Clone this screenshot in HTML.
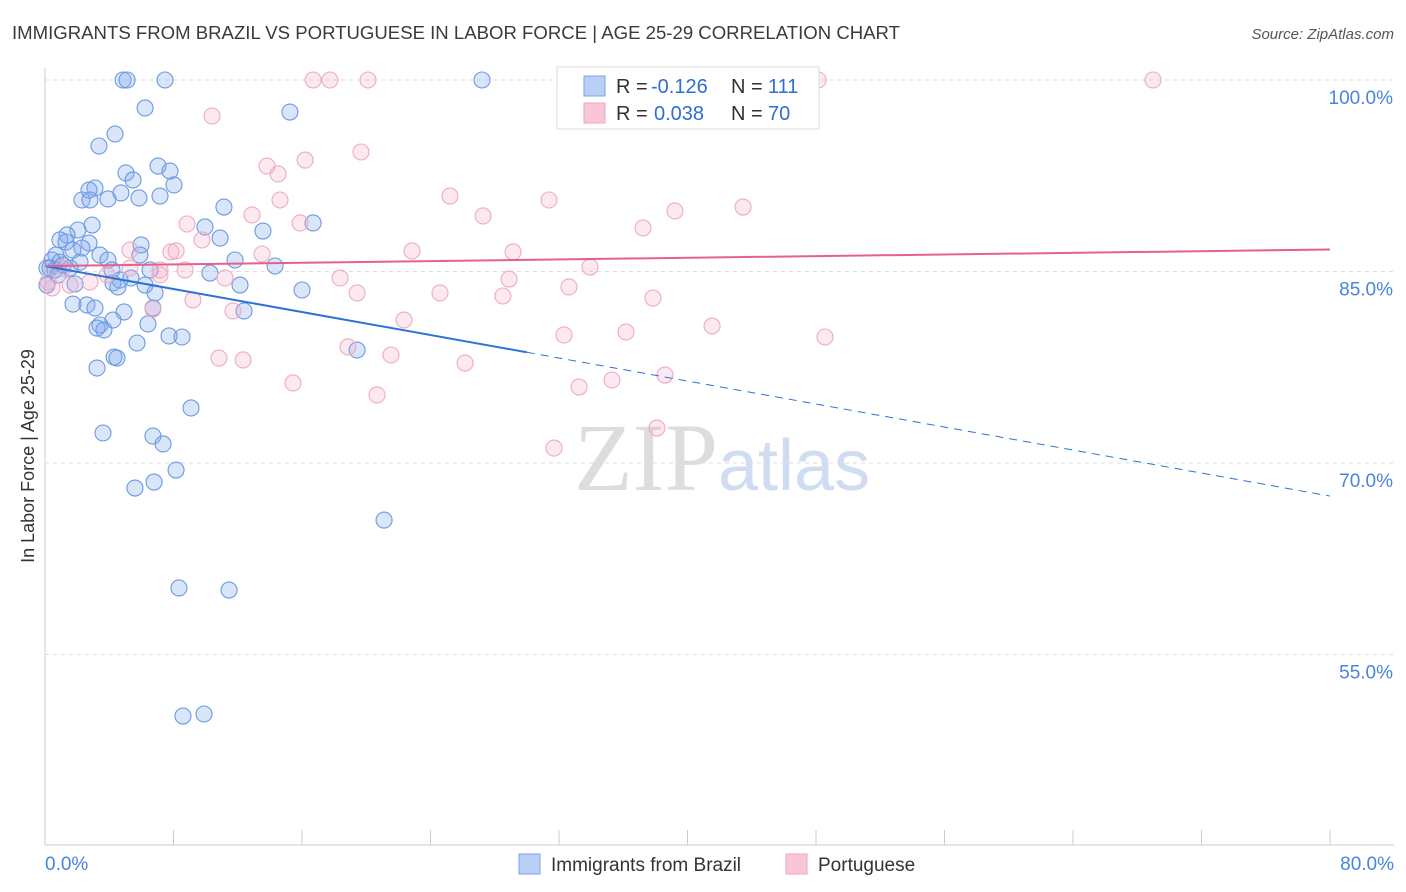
<!DOCTYPE html>
<html><head><meta charset="utf-8"><style>
body{margin:0;background:#fff;font-family:"Liberation Sans",sans-serif;}
svg{display:block}
</style></head><body>
<svg id="chart" width="1406" height="892">
<text x="12" y="39" font-size="18" fill="#3a3a3a" textLength="888" lengthAdjust="spacingAndGlyphs">IMMIGRANTS FROM BRAZIL VS PORTUGUESE IN LABOR FORCE | AGE 25-29 CORRELATION CHART</text>
<text x="1394" y="39" font-size="15" fill="#555" font-style="italic" text-anchor="end">Source: ZipAtlas.com</text>
<text x="34" y="456" font-size="18" fill="#333" transform="rotate(-90 34 456)" text-anchor="middle">In Labor Force | Age 25-29</text>
<g id="grid"></g>
<text x="718" y="490" font-size="96" fill="#ddd" font-family="Liberation Serif,serif" text-anchor="end">ZIP</text>
<text x="718" y="490" font-size="72" fill="#cfdcf2">atlas</text>
<g id="marks"></g>
<g>
<rect x="557" y="67" width="262" height="62" fill="#fff" stroke="#ddd"/>
<rect x="584" y="76" width="21" height="20" fill="#b8d0f5" stroke="#7aa4e6"/>
<rect x="584" y="103" width="21" height="20" fill="#f8c6d6" stroke="#eea5bf"/>
<text x="616" y="93" font-size="20" fill="#333">R =</text>
<text x="651" y="93" font-size="20" fill="#2f6fd0">-0.126</text>
<text x="731" y="93" font-size="20" fill="#333">N =</text>
<text x="768" y="93" font-size="20" fill="#2f6fd0">111</text>
<text x="616" y="120" font-size="20" fill="#333">R =</text>
<text x="654" y="120" font-size="20" fill="#2f6fd0">0.038</text>
<text x="731" y="120" font-size="20" fill="#333">N =</text>
<text x="768" y="120" font-size="20" fill="#2f6fd0">70</text>
</g>
<g>
<rect x="519" y="854" width="21" height="20" fill="#b8d0f5" stroke="#7aa4e6"/>
<text x="551" y="871" font-size="19" fill="#333">Immigrants from Brazil</text>
<rect x="786" y="854" width="21" height="20" fill="#f8c6d6" stroke="#eea5bf"/>
<text x="818" y="871" font-size="19" fill="#333">Portuguese</text>
</g>
</svg>
<script>
const yTicks=[100,85,70,55];
const yTickLabels=["100.0%","85.0%","70.0%","55.0%"];
const xTicks=[0,8,16,24,32,40,48,56,64,72,80];
const blueX=[4.86,5.11,7.47,27.21,6.23,15.25,4.36,3.36,7.04,7.78,5.04,5.48,8.03,3.11,2.74,4.73,2.30,2.80,3.92,5.85,7.16,11.14,9.96,2.93,13.57,16.69,10.90,2.05,1.37,0.93,1.31,2.74,2.30,1.74,0.68,3.42,0.44,0.93,3.92,5.98,5.91,11.83,14.32,0.12,0.62,1.56,4.17,6.54,10.27,4.67,5.35,4.23,6.23,0.12,12.14,1.87,16.0,6.85,1.74,2.61,4.54,3.11,4.92,6.72,12.39,4.23,6.41,3.42,3.24,3.67,5.73,7.72,8.53,19.43,4.30,4.48,3.24,9.09,3.61,6.72,7.35,8.16,6.79,5.60,21.11,8.34,11.46,8.59,9.90,0.31,0.81,1.12,2.18];
const blueY=[100,100,100,100,97.81,97.49,95.77,94.83,93.26,92.87,92.72,92.17,91.78,91.54,91.38,91.15,90.60,90.60,90.68,90.76,90.91,90.05,88.49,88.64,88.17,88.80,87.62,88.25,87.86,87.47,87.31,87.23,86.84,86.68,86.29,86.29,85.90,85.74,85.90,87.08,86.29,85.90,85.43,85.27,85.12,85.27,85.12,85.12,84.88,84.33,84.49,84.10,83.94,83.94,83.94,84.02,83.55,83.32,82.45,82.38,83.79,82.14,81.83,82.14,81.91,81.20,80.89,80.81,80.57,80.42,79.40,79.95,79.87,78.85,78.30,78.22,77.44,74.31,72.35,72.11,71.49,69.45,68.51,68.04,65.53,60.21,60.05,50.18,50.34,85.27,84.73,85.51,85.74];
const pinkX=[16.69,17.74,20.11,48.13,68.98,10.40,19.67,16.19,13.82,14.51,14.63,25.21,31.38,43.46,39.22,27.27,8.84,12.89,15.88,37.23,8.16,7.84,9.77,22.85,29.14,13.51,33.93,18.37,28.89,11.21,24.59,19.43,28.51,32.62,37.85,9.21,11.70,6.72,22.35,41.53,32.31,36.17,48.56,18.86,21.54,10.83,12.33,26.15,15.44,35.30,33.25,38.60,20.67,38.10,31.69,0.44,0.19,2.80,3.86,5.29,7.16,5.29,1.56,7.16,8.72,1.12];
const pinkY=[100,100,100,100,100,97.18,94.36,93.73,93.26,92.64,90.60,90.91,90.60,90.05,89.74,89.35,88.72,89.43,88.80,88.41,86.61,86.53,87.47,86.61,86.53,86.37,85.35,84.49,84.41,84.49,83.32,83.32,83.08,83.79,82.92,82.77,81.91,82.06,81.20,80.73,80.03,80.26,79.87,79.09,78.46,78.22,78.07,77.83,76.27,76.50,75.95,76.89,75.33,72.74,71.17,83.71,84.18,84.18,84.73,86.68,84.73,85.27,83.94,85.12,85.12,85.27];
const blueTrend=[85.43,67.41], blueSolidEnd=30.0;
const pinkTrend=[85.43,86.72];
const NS="http://www.w3.org/2000/svg";
const sx=v=>45+v/80*1285, sy=v=>80+(100-v)/15*191.5;
function mk(tag,attrs,parent){const e=document.createElementNS(NS,tag);for(const k in attrs)e.setAttribute(k,attrs[k]);parent.appendChild(e);return e;}
const grid=document.getElementById('grid'), marks=document.getElementById('marks');
mk('line',{x1:45,y1:68,x2:45,y2:845,stroke:'#ccc'},grid);
mk('line',{x1:45,y1:845,x2:1394,y2:845,stroke:'#ccc'},grid);
yTicks.forEach((t,i)=>{
 const l=mk('line',{x1:45,y1:sy(t),x2:1394,y2:sy(t),stroke:'#ddd','stroke-dasharray':'4,4'},grid);
 
 
 const tx=mk('text',{x:1393,y:sy(t)+24,'font-size':19,fill:'#4a84dc','text-anchor':'end'},grid);
 tx.textContent=yTickLabels[i];
 
 
});
xTicks.forEach(t=>{
 const l=mk('line',{x1:sx(t),y1:830,x2:sx(t),y2:845,stroke:'#ccc'},grid);
 
 
});
const xl0=mk('text',{x:45,y:870,'font-size':19,fill:'#4a84dc'},grid);xl0.textContent='0.0%';


const xl1=mk('text',{x:1394,y:870,'font-size':19,fill:'#4a84dc','text-anchor':'end'},grid);xl1.textContent='80.0%';


blueX.forEach((x,i)=>{
 const c=mk('circle',{cx:sx(x),cy:sy(blueY[i]),r:8,fill:'rgba(130,170,235,0.3)',stroke:'#6b9ae2','stroke-width':1.1},marks);
 
 
});
pinkX.forEach((x,i)=>{
 const c=mk('circle',{cx:sx(x),cy:sy(pinkY[i]),r:8,fill:'rgba(245,165,195,0.25)',stroke:'#eeaac2','stroke-width':1.1},marks);
 
 
});
const by=x=>blueTrend[0]+(blueTrend[1]-blueTrend[0])*x/80;
const b1=mk('line',{x1:sx(0),y1:sy(by(0)),x2:sx(blueSolidEnd),y2:sy(by(blueSolidEnd)),stroke:'#2f72d6','stroke-width':2},marks);


const b2=mk('line',{x1:sx(blueSolidEnd),y1:sy(by(blueSolidEnd)),x2:sx(80),y2:sy(by(80)),stroke:'#2f72d6','stroke-width':1,'stroke-dasharray':'8,6'},marks);


const p1=mk('line',{x1:sx(0),y1:sy(pinkTrend[0]),x2:sx(80),y2:sy(pinkTrend[1]),stroke:'#e5608e','stroke-width':2},marks);


</script>
</body></html>
